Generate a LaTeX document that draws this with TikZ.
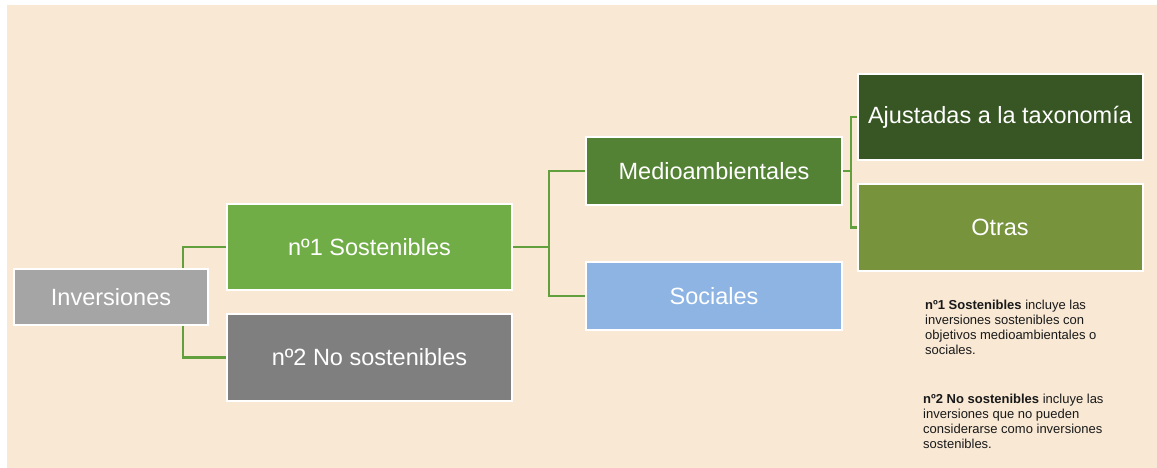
\documentclass[tikz,border=0pt]{standalone}
\usepackage{fontspec}
\setmainfont{Liberation Sans}
\definecolor{beige}{HTML}{F8E8D4}
\definecolor{grisclaro}{HTML}{A5A5A5}
\definecolor{grisoscuro}{HTML}{7F7F7F}
\definecolor{verde}{HTML}{70AD47}
\definecolor{verdemedio}{HTML}{548235}
\definecolor{verdeoscuro}{HTML}{375623}
\definecolor{oliva}{HTML}{77933C}
\definecolor{azul}{HTML}{8EB4E3}
\definecolor{linea}{HTML}{62A03E}
\tikzset{
  caja/.style={draw=white, line width=2pt, text=white, inner sep=0pt,
    font=\fontsize{23.5}{28}\selectfont},
  conn/.style={draw=linea, line width=2.6pt},
  nota/.style={anchor=north west, align=left, inner sep=0pt, text=black!90,
    font=\fontsize{13}{15}\selectfont}
}
\begin{document}
\begin{tikzpicture}[x=1pt,y=-1pt]
\useasboundingbox (0,0) rectangle (1157,468);
\fill[beige] (7,5) rectangle (1157,468);
\node[caja, fill=grisclaro, minimum width=194pt, minimum height=56pt] (inv) at (111,297) {Inversiones};
\node[caja, fill=verde, minimum width=285pt, minimum height=86pt] (sos) at (369.5,247) {nº1 Sostenibles};
\node[caja, fill=grisoscuro, minimum width=285pt, minimum height=87pt] (nos) at (369.5,357.5) {nº2 No sostenibles};
\node[caja, fill=verdemedio, minimum width=256pt, minimum height=67pt] (med) at (714,171) {Medioambientales};
\node[caja, fill=azul, minimum width=256pt, minimum height=68pt] (soc) at (714,296) {Sociales};
\node[caja, fill=verdeoscuro, minimum width=285pt, minimum height=86pt] (aju) at (1000,117) {Ajustadas a la taxonomía};
\node[caja, fill=oliva, minimum width=285pt, minimum height=87pt] (otr) at (1000,227.5) {Otras};
\coordinate (invtop) at (183,268);
\coordinate (invbot) at (183,326);
\coordinate (nudo1) at (549,247);
\coordinate (nudo2) at (851,171);
\draw[conn] (invtop) |- (sos.west);
\draw[conn] (invbot) |- (nos.west);
\draw[conn] (sos.east) -- (nudo1) |- (med.west);
\draw[conn] (nudo1) |- (soc.west);
\draw[conn, line width=2.2pt] (med.east) -- (nudo2) |- (aju.west);
\draw[conn, line width=2.2pt] (nudo2) |- (otr.west);
\node[nota] (nota1) at (925,300) {\textbf{nº1 Sostenibles} incluye las\\inversiones sostenibles con\\objetivos medioambientales o\\sociales.};
\node[nota] (nota2) at (923,394) {\textbf{nº2 No sostenibles} incluye las\\inversiones que no pueden\\considerarse como inversiones\\sostenibles.};
\end{tikzpicture}
\end{document}
